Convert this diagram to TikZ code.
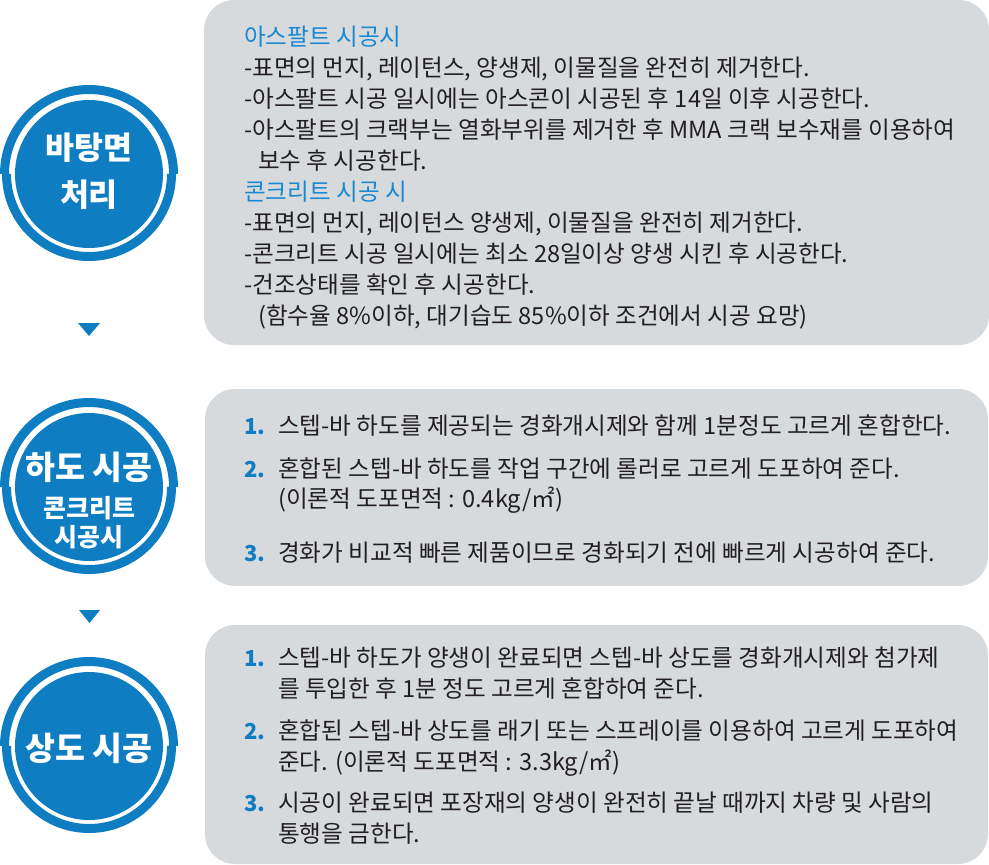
\documentclass[tikz,border=0pt]{standalone}
\usepackage{fontspec}
\setmainfont{Noto Sans CJK KR}
\usetikzlibrary{positioning}

\definecolor{stepblue}{HTML}{0E7DC2}
\definecolor{headblue}{HTML}{1888D0}
\definecolor{boxgray}{HTML}{D7DADD}
\definecolor{bodyink}{HTML}{231F20}

\tikzset{
  graybox/.style={fill=boxgray, rounded corners=30pt, inner sep=0pt},
  disc/.style={circle, fill=stepblue, minimum size=148pt, inner sep=0pt},
  ring/.style={draw=stepblue, line width=9pt},
  disctext/.style={text=white, font=\bfseries, align=center, anchor=base, inner sep=0pt},
  bodytext/.style={text=bodyink, align=left, anchor=base west, inner sep=0pt,
    font=\fontsize{23.6}{31}\selectfont},
  numtext/.style={text=stepblue, anchor=base west, inner sep=0pt,
    font=\fontsize{22}{31}\selectfont\bfseries},
}

\begin{document}
\begin{tikzpicture}[x=1pt, y=-1pt]
\useasboundingbox (0,0) rectangle (989,865);

% gray boxes
\node[graybox, minimum width=785pt, minimum height=345pt] (box1) at (596.5,172.5) {};
\node[graybox, minimum width=783pt, minimum height=197pt] (box2) at (596.5,487.5) {};
\node[graybox, minimum width=783pt, minimum height=239pt] (box3) at (596.5,744.5) {};

% step circles
\foreach \cy [count=\i] in {174,487,746} {
  \node[disc] (c\i) at (89,\cy) {};
  \draw[ring] (c\i.center) ++(-84.5pt,0) arc[start angle=180, end angle=0, radius=84.5pt];
  \draw[ring] (c\i.center) ++(-82.5pt,0) arc[start angle=180, end angle=360, radius=82.5pt];
}

% base = last line
\node[disctext, font=\fontsize{31.5}{47}\selectfont\bfseries] (t1) at (89,206.5) {바탕면\\처리};
\node[disctext, font=\fontsize{32.5}{32}\selectfont\bfseries] (t2) at (89,479) {하도 시공};
\node[disctext, font=\fontsize{25}{29}\selectfont\bfseries] (t2b) at (89,546.5) {콘크리트\\시공시};
\node[disctext, font=\fontsize{32.5}{32}\selectfont\bfseries] (t3) at (89,760) {상도 시공};

% arrows between steps
\fill[stepblue] (78,323) -- (100,323) -- (89,336) -- cycle;
\fill[stepblue] (79,610) -- (100,610) -- (89.5,623) -- cycle;

% step 1
\node[bodytext] (txt1) at (244,324) {%
  \textcolor{headblue}{아스팔트 시공시}\\
  -표면의 먼지, 레이턴스, 양생제, 이물질을 완전히 제거한다.\\
  -아스팔트 시공 일시에는 아스콘이 시공된 후 14일 이후 시공한다.\\
  -아스팔트의 크랙부는 열화부위를 제거한 후 MMA 크랙 보수재를 이용하여\\
  \hspace*{14pt}보수 후 시공한다.\\
  \textcolor{headblue}{콘크리트 시공 시}\\
  -표면의 먼지, 레이턴스 양생제, 이물질을 완전히 제거한다.\\
  -콘크리트 시공 일시에는 최소 28일이상 양생 시킨 후 시공한다.\\
  -건조상태를 확인 후 시공한다.\\
  \hspace*{14pt}(함수율 8\%이하, 대기습도 85\%이하 조건에서 시공 요망)};

% step 2
\foreach \n/\y/\b/\t in {
  1/434/434/{스텝-바 하도를 제공되는 경화개시제와 함께 1분정도 고르게 혼합한다.},
  2/477/507/{혼합된 스텝-바 하도를 작업 구간에 롤러로 고르게 도포하여 준다.\\[-1pt](이론적 도포면적 : 0.4kg/㎡)},
  3/561/561/{경화가 비교적 빠른 제품이므로 경화되기 전에 빠르게 시공하여 준다.}} {
  \node[numtext] (a\n) at (244,\y) {\n.};
  \node[bodytext] (ai\n) at (278,\b) {\t};
}

% step 3
\foreach \n/\y/\b/\t in {
  1/666/697/{스텝-바 하도가 양생이 완료되면 스텝-바 상도를 경화개시제와 첨가제\\를 투입한 후 1분 정도 고르게 혼합하여 준다.},
  2/739/770.5/{혼합된 스텝-바 상도를 래기 또는 스프레이를 이용하여 고르게 도포하여\\준다. (이론적 도포면적 : 3.3kg/㎡)},
  3/811/842/{시공이 완료되면 포장재의 양생이 완전히 끝날 때까지 차량 및 사람의\\통행을 금한다.}} {
  \node[numtext] (b\n) at (244,\y) {\n.};
  \node[bodytext] (bi\n) at (278,\b) {\t};
}
\end{tikzpicture}
\end{document}
